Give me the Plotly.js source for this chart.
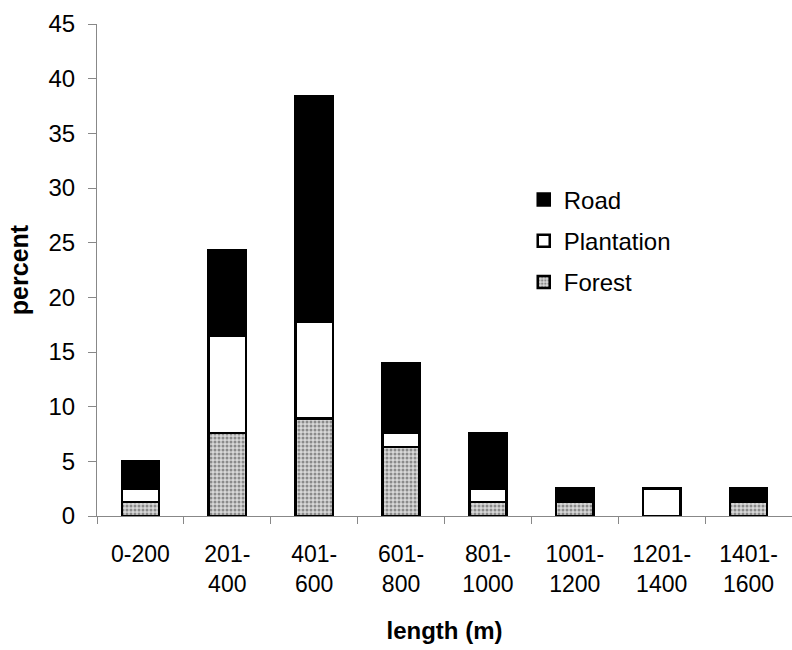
<!DOCTYPE html>
<html>
<head>
<meta charset="utf-8">
<script src="https://cdn.plot.ly/plotly-3.0.1.min.js"></script>
<style>html,body{margin:0;padding:0;background:#fff;}#chart{width:792px;height:650px;}</style>
</head>
<body>
<div id="chart"></div>
<script>
const categories = ["0-200", "201-400", "401-600", "601-800", "801-1000", "1001-1200", "1201-1400", "1401-1600"];
const tickLabels = ["0-200", "201-<br>400", "401-<br>600", "601-<br>800", "801-<br>1000", "1001-<br>1200", "1201-<br>1400", "1401-<br>1600"];
const forest = [1.3, 7.6, 8.9, 6.3, 1.3, 1.3, 0, 1.3];
const plantation = [1.2, 8.9, 8.9, 1.3, 1.2, 0, 2.5, 0];
const road = [2.5, 7.8, 20.6, 6.4, 5.1, 1.2, 0, 1.2];

const line = {color: '#000', width: 2.5};
const traces = [
  {type: 'bar', name: 'Forest', legendgroup: 'f', legendrank: 3, x: categories, y: forest,
   marker: {color: '#c8c8c8', line: line,
            pattern: {shape: '.', bgcolor: '#d8d8d8', fgcolor: '#8a8a8a', size: 4, solidity: 0.45}}},
  {type: 'bar', name: 'Plantation', legendgroup: 'p', legendrank: 2, x: categories, y: plantation,
   marker: {color: '#ffffff', line: line}},
  {type: 'bar', name: 'Road', legendgroup: 'r', legendrank: 1, x: categories, y: road,
   marker: {color: '#000000', line: line}}
];

const layout = {
  width: 792, height: 650,
  margin: {l: 97, r: 0, t: 24, b: 134},
  paper_bgcolor: '#fff', plot_bgcolor: '#fff',
  barmode: 'stack', bargap: 0.57,
  font: {family: '"Liberation Sans", Arial, sans-serif', color: '#000', size: 23},
  showlegend: true,
  legend: {x: 0.614, y: 0.688, xanchor: 'left', yanchor: 'top', font: {size: 24},
           bgcolor: 'rgba(0,0,0,0)', tracegroupgap: 7, itemwidth: 30, traceorder: 'grouped'},
  xaxis: {
    type: 'category', tickmode: 'array', tickvals: categories, ticktext: tickLabels,
    tickson: 'boundaries', ticks: 'outside', ticklen: 7, tickcolor: '#888',
    showline: true, linecolor: '#888', linewidth: 1, ticklabelstandoff: 17,
    showgrid: false, zeroline: false, tickfont: {size: 23},
    title: {text: '<b>length (m)</b>', font: {size: 24}, standoff: 26}
  },
  yaxis: {
    range: [0, 45], dtick: 5, ticks: 'outside', ticklen: 8, tickcolor: '#888',
    showline: true, linecolor: '#888', linewidth: 1, ticklabelstandoff: 8,
    showgrid: false, zeroline: false, tickfont: {size: 24},
    title: {text: '<b>percent</b>', font: {size: 25}, standoff: 12}
  }
};

Plotly.newPlot('chart', traces, layout, {displayModeBar: false, staticPlot: true});
</script>
</body>
</html>
